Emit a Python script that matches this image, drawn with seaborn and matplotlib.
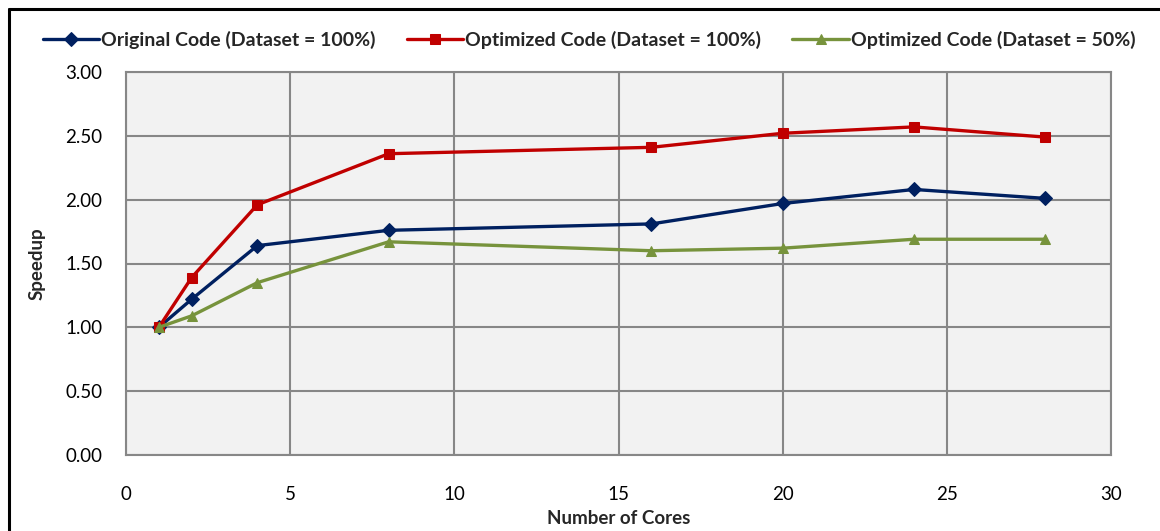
import matplotlib
matplotlib.use("Agg")
import matplotlib.pyplot as plt
from matplotlib.lines import Line2D
import seaborn as sns
import pandas as pd

cores = [1, 2, 4, 8, 16, 20, 24, 28]
original_100 = [1.00, 1.22, 1.64, 1.76, 1.81, 1.97, 2.08, 2.01]
optimized_100 = [1.00, 1.39, 1.96, 2.36, 2.41, 2.52, 2.57, 2.49]
optimized_50 = [1.00, 1.09, 1.35, 1.67, 1.60, 1.62, 1.69, 1.69]

series_names = [
    "Original Code (Dataset = 100%)",
    "Optimized Code (Dataset = 100%)",
    "Optimized Code (Dataset = 50%)",
]
series_values = [original_100, optimized_100, optimized_50]
colors = ["#002060", "#C00000", "#77933C"]
markers = ["D", "s", "^"]
marker_sizes = [7, 7, 7.5]

x_ticks = [0, 5, 10, 15, 20, 25, 30]
y_ticks = [0.0, 0.5, 1.0, 1.5, 2.0, 2.5, 3.0]

rows = []
for name, vals in zip(series_names, series_values):
    for c, v in zip(cores, vals):
        rows.append({"Number of Cores": c, "Speedup": v, "Series": name})
df = pd.DataFrame(rows)

sns.set_theme(style="white")
plt.rcParams["font.family"] = ["Lato", "DejaVu Sans"]

fig = plt.figure(figsize=(11.6, 5.31), dpi=100)
W, H = 1160, 531
ax = fig.add_axes([126 / W, 1 - 455 / H, (1111 - 126) / W, (455 - 72) / H])
ax.set_facecolor("#F2F2F2")

for name, col, mk, ms in zip(series_names, colors, markers, marker_sizes):
    sub = df[df["Series"] == name]
    sns.lineplot(data=sub, x="Number of Cores", y="Speedup", ax=ax,
                 color=col, marker=mk, markersize=ms, markeredgecolor=col,
                 linewidth=2.4, label=name, zorder=3)

ax.set_xlim(0, 30)
ax.set_ylim(0, 3)
ax.set_xticks(x_ticks)
ax.set_yticks(y_ticks)
ax.set_yticklabels([f"{v:.2f}" for v in y_ticks])
ax.grid(True, color="#878787", linewidth=1.5, zorder=0)
ax.set_axisbelow(True)
for s in ax.spines.values():
    s.set_color("#878787")
    s.set_linewidth(1.5)
ax.tick_params(axis="both", which="both", direction="out", length=5, width=1.2,
               color="#878787", labelsize=13.5, labelcolor="black")
ax.tick_params(axis="y", pad=12)
ax.tick_params(axis="x", pad=17)
ax.set_xlabel("Number of Cores", fontsize=13.5, fontweight="bold", labelpad=5)
ax.set_ylabel("Speedup", fontsize=13.5, fontweight="bold", labelpad=14)

handles, labels = ax.get_legend_handles_labels()
ax.legend(handles, labels, loc="center", bbox_to_anchor=(0.508, 1 - 40 / H),
          bbox_transform=fig.transFigure, ncol=3, frameon=False,
          handlelength=2.9, columnspacing=1.6, handletextpad=0.1,
          prop={"weight": "bold", "size": 14})

# Chart-area border (left and top edges)
fig.add_artist(Line2D([9 / W, 9 / W], [0, 1 - 9 / H], color="black", linewidth=2.2,
                      transform=fig.transFigure))
fig.add_artist(Line2D([9 / W, 1], [1 - 9 / H, 1 - 9 / H], color="black", linewidth=2.2,
                      transform=fig.transFigure))

fig.savefig("out.png", dpi=100, facecolor="white")
